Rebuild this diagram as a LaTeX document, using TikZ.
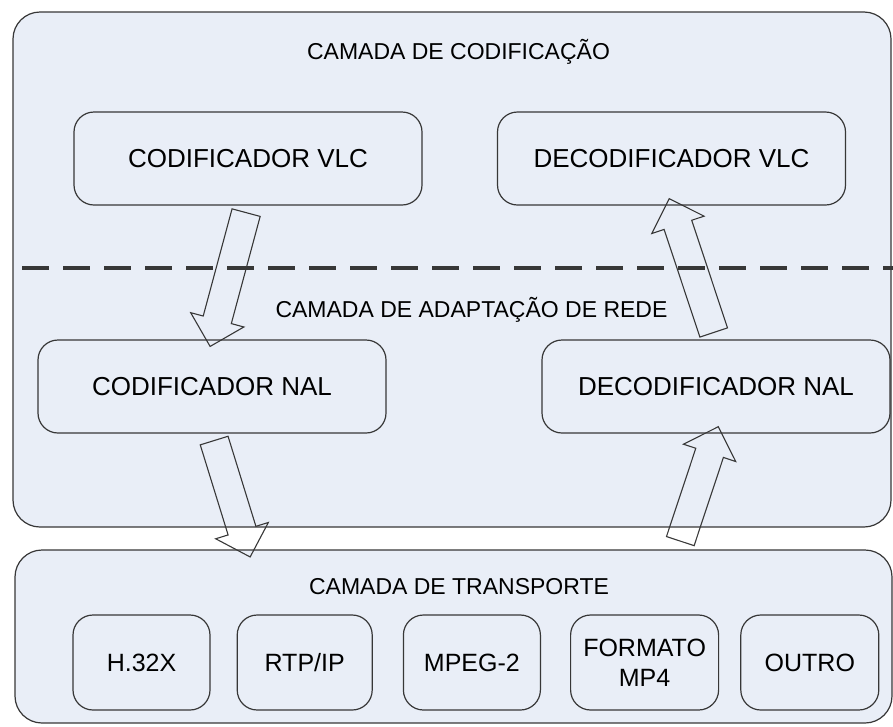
\documentclass[tikz,border=0pt]{standalone}
\usepackage{fontspec}
\setmainfont{Liberation Sans}
\usepackage{xcolor}
\usepackage{tikz}
\usetikzlibrary{positioning,shapes.arrows,calc}

\definecolor{layerfill}{RGB}{233,238,247}
\definecolor{edgegray}{RGB}{55,55,55}

% hollow block arrow between two points
\newcommand{\blockarrow}[2]{%
  \path let \p1=($(#2)-(#1)$), \n1={atan2(\y1,\x1)}, \n2={veclen(\x1,\y1)} in
    node[flow, minimum height=\n2, rotate=\n1] at ($(#1)!0.5!(#2)$) {};
}

\begin{document}
\begin{tikzpicture}[
    x=1pt, y=-1pt,
    layer/.style={draw=edgegray, fill=layerfill, line width=1.2pt, rounded corners=27pt},
    unit/.style={draw=edgegray, fill=layerfill, line width=1.2pt, rounded corners=20pt,
        minimum width=348pt, minimum height=93pt, font=\fontsize{26}{30}\selectfont},
    proto/.style={draw=edgegray, fill=layerfill, line width=1.2pt, rounded corners=20pt,
        minimum width=136pt, minimum height=95pt, align=center, inner sep=2pt,
        font=\fontsize{25}{30}\selectfont},
    title/.style={font=\fontsize{23}{26}\selectfont},
    flow/.style={single arrow, draw=edgegray, line width=1.1pt, inner sep=0pt,
        inner ysep=14pt, single arrow head extend=13pt},
    cut/.style={draw=edgegray, line width=3.2pt, dash pattern=on 27pt off 14pt}
]
\useasboundingbox (0,0) rectangle (893,726);

% layers
\node[layer, minimum width=878pt, minimum height=515pt] (coding) at (452,269.5) {};
\node[layer, minimum width=877pt, minimum height=173pt] (transport) at (453.5,636.5) {};

\node[title] (tcod) at (458.5,52) {CAMADA DE CODIFICAÇÃO};
\node[title] (tnal) at (471.5,310) {CAMADA DE ADAPTAÇÃO DE REDE};
\node[title] (ttra) at (459,587) {CAMADA DE TRANSPORTE};

\coordinate (cutl) at (22,268);
\coordinate (cutr) at (893,268);
\draw[cut] (cutl) -- (cutr);

% codec units
\node[unit] (cvlc) at (248,158.5) {CODIFICADOR VLC};
\node[unit] (dvlc) at (671.5,158.5) {DECODIFICADOR VLC};
\node[unit] (cnal) at (212,386.5) {CODIFICADOR NAL};
\node[unit] (dnal) at (716,386.5) {DECODIFICADOR NAL};

% transport protocols
\node[proto, minimum width=137pt] (h32x) at (141.5,662.5) {H.32X};
\node[proto, minimum width=135pt, right=26pt of h32x] (rtpip) {RTP/IP};
\node[proto, minimum width=137pt, right=30pt of rtpip] (mpeg) {MPEG-2};
\node[proto, minimum width=148pt, right=29pt of mpeg] (mp4) {FORMATO\\MP4};
\node[proto, minimum width=138pt, right=21pt of mp4] (outro) {OUTRO};

% flows
\coordinate (tin) at (248,550);
\coordinate (tout) at (678,548);
\blockarrow{cvlc.south}{cnal.north}
\blockarrow{cnal.south}{tin}
\blockarrow{tout}{dnal.south}
\blockarrow{dnal.north}{dvlc.south}
\end{tikzpicture}
\end{document}
